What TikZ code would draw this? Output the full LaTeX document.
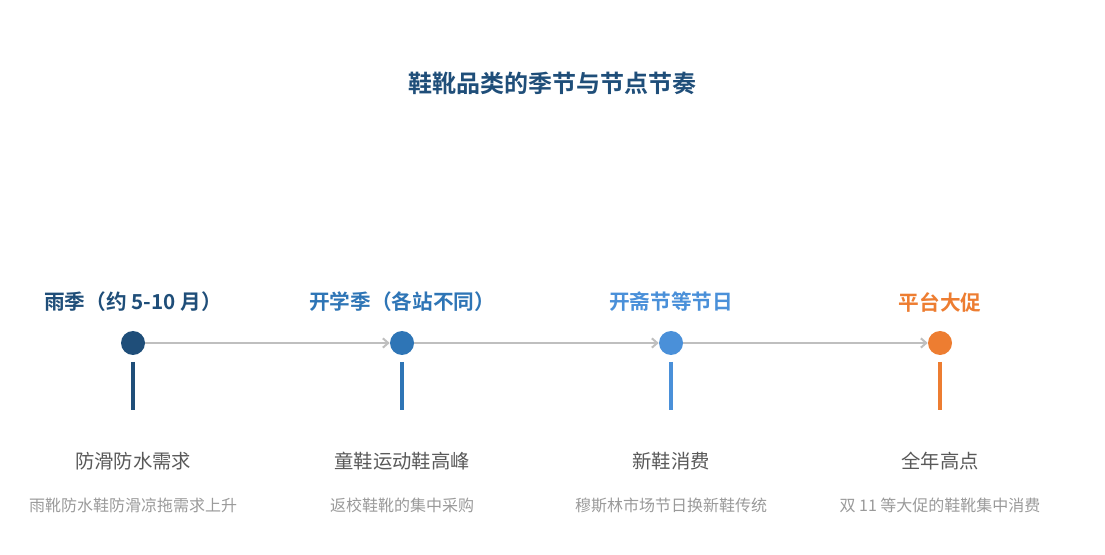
\documentclass[tikz,border=0pt]{standalone}
\usepackage{fontspec}
\setmainfont{Noto Sans CJK SC}[BoldFont={Noto Sans CJK SC Bold}]
\usetikzlibrary{positioning,arrows.meta}
\definecolor{rainblue}{HTML}{1F4E79}
\definecolor{schoolblue}{HTML}{2E75B6}
\definecolor{feastblue}{HTML}{4A90D9}
\definecolor{promoorange}{HTML}{ED7D31}
\definecolor{linegray}{HTML}{BFBFBF}
\definecolor{maintext}{HTML}{595959}
\definecolor{subtext}{HTML}{9A9A9A}
\begin{document}
\begin{tikzpicture}[
    x=0.75pt, y=-0.75pt,
    dot/.style={circle, fill=#1, minimum size=18pt, inner sep=0pt},
    season/.style={font=\bfseries\fontsize{15.5}{18}\selectfont, text=#1},
    stem/.style={draw=#1, line width=2.4pt},
    flow/.style={draw=linegray, line width=1.5pt, -{Straight Barb[length=4pt,width=7pt]}},
    headline/.style={font=\fontsize{14.5}{17}\selectfont, text=maintext},
    detail/.style={font=\fontsize{12}{14}\selectfont, text=subtext}
  ]
  \useasboundingbox (0,0) rectangle (1105,555);
  \node[font=\bfseries\fontsize{18}{21}\selectfont, text=rainblue] (title) at (552,83) {鞋靴品类的季节与节点节奏};

  % timeline stops
  \foreach \x/\c/\name/\lab/\head/\sub in {
      133/rainblue/rain/{雨季（约 5-10 月）}/防滑防水需求/雨靴防水鞋防滑凉拖需求上升,
      402/schoolblue/school/{开学季（各站不同）}/童鞋运动鞋高峰/返校鞋靴的集中采购,
      671/feastblue/feast/开斋节等节日/新鞋消费/穆斯林市场节日换新鞋传统,
      940/promoorange/promo/平台大促/全年高点/双 11 等大促的鞋靴集中消费} {
    \node[dot=\c] (\name) at (\x,343) {};
    \node[season=\c] (\name-lab) at (\x,302) {\lab};
    \coordinate (\name-top) at (\x,362);
    \coordinate (\name-bot) at (\x,410);
    \draw[stem=\c] (\name-top) -- (\name-bot);
    \node[headline] (\name-head) at (\x,461) {\head};
    \node[detail] (\name-sub) at (\x,505) {\sub};
  }

  \draw[flow] (rain) -- (school);
  \draw[flow] (school) -- (feast);
  \draw[flow] (feast) -- (promo);
\end{tikzpicture}
\end{document}
